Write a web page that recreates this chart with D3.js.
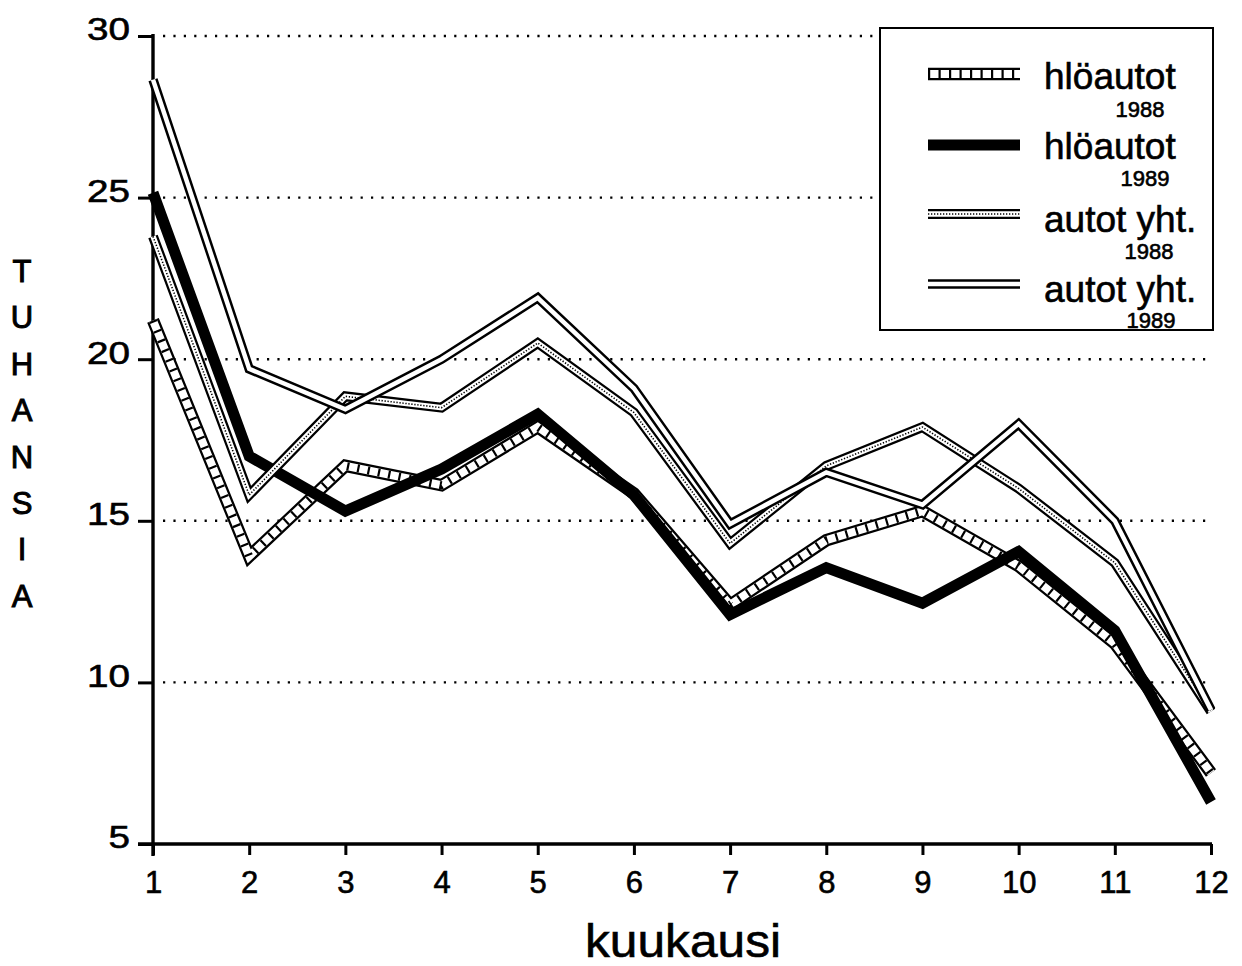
<!DOCTYPE html>
<html>
<head>
<meta charset="utf-8">
<script src="https://cdn.jsdelivr.net/npm/d3@7/dist/d3.min.js"></script>
<style>
  html, body { margin: 0; padding: 0; background: #fff; }
  svg { display: block; }
  text { font-family: "Liberation Sans", Arial, Helvetica, sans-serif; fill: #000; stroke: #000; stroke-width: 0.6px; }
</style>
</head>
<body>
<svg id="chart" width="1242" height="966"></svg>
<script>
// ---- data ----
const months = [1, 2, 3, 4, 5, 6, 7, 8, 9, 10, 11, 12];
const yTicks = [5, 10, 15, 20, 25, 30];
const gridTicks = [10, 15, 20, 25, 30];
const hloautot1988 = [21.2, 13.9, 16.7, 16.1, 17.9, 15.85, 12.4, 14.4, 15.3, 13.6, 11.2, 7.2];
const hloautot1989 = [25.15, 17.0, 15.3, 16.6, 18.3, 15.8, 12.1, 13.55, 12.45, 14.05, 11.6, 6.3];
const autotYht1988 = [23.8, 15.8, 18.85, 18.5, 20.5, 18.35, 14.3, 16.7, 17.9, 16.0, 13.7, 9.1];
const autotYht1989 = [28.65, 19.7, 18.45, 20.0, 21.9, 19.1, 14.9, 16.5, 15.5, 18.0, 15.0, 9.15];
const legendNames = ["hlöautot", "hlöautot", "autot yht.", "autot yht."];
const legendYears = ["1988", "1989", "1988", "1989"];
const yTitle = "TUHANSIA";
const xTitle = "kuukausi";

// ---- layout ----
const svg = d3.select("#chart");
const x = d3.scaleLinear().domain([1, 12]).range([153, 1211]);
const y = d3.scaleLinear().domain([5, 30]).range([844, 36]);

const styles = {
  hatched: [
    { stroke: "#000", width: 12.5 },
    { stroke: "#fff", width: 8 },
    { stroke: "#000", width: 8, dash: "2.2,8.3" }
  ],
  solid: [
    { stroke: "#000", width: 11 }
  ],
  dotted: [
    { stroke: "#000", width: 10 },
    { stroke: "#fff", width: 5.5 },
    { stroke: "#000", width: 1.6, dash: "1.3,1.7" }
  ],
  white: [
    { stroke: "#000", width: 9.5 },
    { stroke: "#fff", width: 4.5 }
  ]
};

const series = [
  { values: hloautot1988, style: "hatched" },
  { values: hloautot1989, style: "solid" },
  { values: autotYht1988, style: "dotted" },
  { values: autotYht1989, style: "white" }
];

// gridlines (dotted)
svg.append("g").selectAll("line").data(gridTicks).join("line")
  .attr("x1", 163).attr("x2", 1212)
  .attr("y1", d => y(d)).attr("y2", d => y(d))
  .attr("stroke", "#000").attr("stroke-width", 2.4)
  .attr("stroke-dasharray", "2.2,8.2");

// axes
const yAxis = d3.axisLeft(y).tickValues(yTicks).tickSize(15).tickFormat(d3.format("d"));
const gy = svg.append("g").attr("transform", "translate(153,0)").call(yAxis);
gy.select(".domain").remove();
gy.selectAll(".tick line").attr("stroke", "#000").attr("stroke-width", 3);
gy.selectAll(".tick text").attr("font-size", 32).attr("x", -23).attr("dy", "0.12em")
  .attr("font-family", "'Liberation Sans', Arial, sans-serif")
  .attr("textLength", d => String(d).length * 21.5)
  .attr("lengthAdjust", "spacingAndGlyphs");

const xAxis = d3.axisBottom(x).tickValues(months).tickSize(11).tickFormat(d3.format("d"));
const gx = svg.append("g").attr("transform", "translate(0,844)").call(xAxis);
gx.select(".domain").remove();
gx.selectAll(".tick line").attr("stroke", "#000").attr("stroke-width", 3);
gx.selectAll(".tick text").attr("font-size", 31).attr("y", 27).attr("dy", "0.71em")
  .attr("font-family", "'Liberation Sans', Arial, sans-serif");

// axis lines
svg.append("line").attr("x1", 153).attr("x2", 153).attr("y1", y(30) - 2).attr("y2", y(5) + 12)
  .attr("stroke", "#000").attr("stroke-width", 3.4);
svg.append("line").attr("x1", 138).attr("x2", x(12) + 1).attr("y1", y(5)).attr("y2", y(5))
  .attr("stroke", "#000").attr("stroke-width", 3.4);

// series lines
const line = d3.line().x((d, i) => x(months[i])).y(d => y(d));
series.forEach(s => {
  const g = svg.append("g");
  styles[s.style].forEach(layer => {
    g.append("path").datum(s.values)
      .attr("d", line)
      .attr("fill", "none")
      .attr("stroke", layer.stroke)
      .attr("stroke-width", layer.width)
      .attr("stroke-linejoin", "miter")
      .attr("stroke-miterlimit", 3)
      .attr("stroke-linecap", "butt")
      .attr("stroke-dasharray", layer.dash || null);
  });
});

// legend
const lg = svg.append("g");
lg.append("rect").attr("x", 880).attr("y", 28).attr("width", 333).attr("height", 302)
  .attr("fill", "#fff").attr("stroke", "#000").attr("stroke-width", 2);
const legendRows = [
  { y: 74, style: "hatched", labelY: 89, subX: 1140, subY: 117 },
  { y: 145, style: "solid", labelY: 159, subX: 1145, subY: 186 },
  { y: 214, style: "dotted", labelY: 232, subX: 1149, subY: 259 },
  { y: 284, style: "white", labelY: 302, subX: 1151, subY: 328 }
];
const legLine = d3.line();
legendRows.forEach((r, i) => {
  styles[r.style].forEach(layer => {
    lg.append("path").datum([[928, r.y], [1020, r.y]])
      .attr("d", legLine)
      .attr("fill", "none")
      .attr("stroke", layer.stroke)
      .attr("stroke-width", layer.width)
      .attr("stroke-linecap", "butt")
      .attr("stroke-dasharray", layer.dash || null);
  });
  lg.append("text").attr("x", 1044).attr("y", r.labelY)
    .attr("font-size", 37).text(legendNames[i]);
  lg.append("text").attr("x", r.subX).attr("y", r.subY)
    .attr("font-size", 22).attr("text-anchor", "middle").text(legendYears[i]);
});

// y title: stacked letters
svg.append("g").selectAll("text").data(yTitle.split("")).join("text")
  .attr("x", 22).attr("y", (d, i) => 282 + i * 46.4)
  .attr("text-anchor", "middle").attr("font-size", 31)
  .style("stroke-width", "1px")
  .text(d => d);

// x title
svg.append("text").attr("x", 683).attr("y", 957).attr("text-anchor", "middle")
  .attr("font-size", 46).attr("textLength", 196).attr("lengthAdjust", "spacingAndGlyphs")
  .text(xTitle);
</script>
</body>
</html>
